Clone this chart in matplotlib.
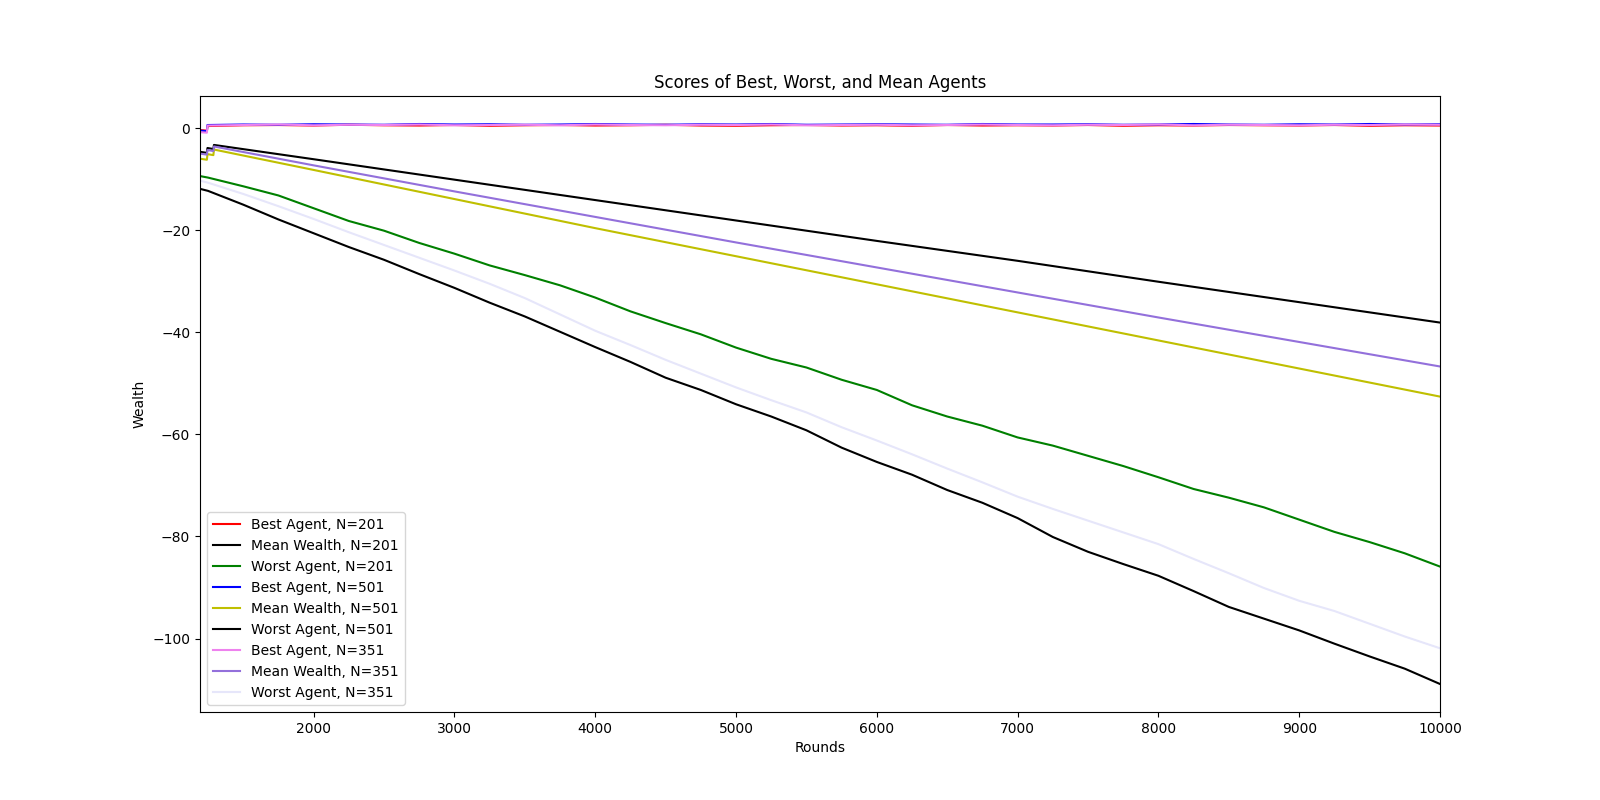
import matplotlib
matplotlib.use("Agg")
import matplotlib.pyplot as plt

# ---- data ----
best_rounds = [1193, 1242, 1246] + list(range(1500, 10001, 250))
best_201 = [-0.4, -0.5, 0.4, 0.55, 0.6, 0.5, 0.65, 0.55, 0.5, 0.6, 0.45, 0.55, 0.6, 0.5,
            0.55, 0.65, 0.5, 0.45, 0.55, 0.6, 0.5, 0.55, 0.45, 0.6, 0.5, 0.55, 0.5, 0.6,
            0.45, 0.55, 0.5, 0.6, 0.55, 0.5, 0.6, 0.45, 0.55, 0.5]
best_501 = [-0.5, -0.6, 0.6, 0.7, 0.65, 0.75, 0.7, 0.65, 0.8, 0.7, 0.75, 0.65, 0.7, 0.8,
            0.7, 0.65, 0.75, 0.7, 0.8, 0.65, 0.7, 0.75, 0.7, 0.65, 0.8, 0.7, 0.7, 0.75,
            0.65, 0.7, 0.8, 0.7, 0.65, 0.75, 0.7, 0.8, 0.7, 0.75]
best_351 = [-0.8, -0.9, 0.5, 0.6, 0.7, 0.55, 0.65, 0.6, 0.7, 0.55, 0.6, 0.65, 0.55, 0.7,
            0.6, 0.55, 0.65, 0.6, 0.7, 0.55, 0.6, 0.65, 0.55, 0.6, 0.7, 0.6, 0.55, 0.65,
            0.6, 0.7, 0.55, 0.65, 0.6, 0.55, 0.65, 0.6, 0.7, 0.65]

mean_rounds = [1193, 1242, 1246, 1288, 1292] + list(range(2000, 10001, 1000))
mean_201 = [-4.65, -4.85, -3.9, -4.1, -3.3, -6.1, -10.1, -14.1, -18.1, -22.1, -26.0, -30.1, -34.1, -38.1]
mean_501 = [-6.0, -6.2, -5.1, -5.3, -4.2, -8.2, -13.9, -19.6, -25.1, -30.6, -36.1, -41.6, -47.1, -52.6]
mean_351 = [-5.0, -5.2, -4.3, -4.5, -3.6, -7.3, -12.4, -17.4, -22.4, -27.3, -32.2, -37.1, -41.9, -46.7]

worst_rounds = [1193, 1250] + list(range(1500, 10001, 250))
worst_201 = [-9.4, -9.7, -11.4, -13.2, -15.7, -18.2, -20.1, -22.5, -24.6, -26.9, -28.8, -30.8,
             -33.2, -35.9, -38.2, -40.4, -43.0, -45.2, -46.9, -49.3, -51.3, -54.3, -56.5, -58.3,
             -60.6, -62.2, -64.2, -66.2, -68.4, -70.7, -72.4, -74.3, -76.7, -79.1, -81.1, -83.3, -85.9]
worst_501 = [-11.9, -12.3, -15.0, -17.9, -20.6, -23.3, -25.8, -28.6, -31.3, -34.2, -36.9, -39.9,
             -42.9, -45.8, -48.9, -51.3, -54.1, -56.5, -59.2, -62.6, -65.4, -67.9, -70.9, -73.4,
             -76.4, -80.1, -83.0, -85.4, -87.7, -90.7, -93.8, -96.1, -98.4, -101.0, -103.5, -105.9, -108.9]
worst_351 = [-10.3, -10.7, -12.9, -15.3, -17.8, -20.4, -22.9, -25.4, -27.9, -30.5, -33.3, -36.5,
             -39.7, -42.5, -45.4, -48.1, -50.8, -53.3, -55.7, -58.6, -61.2, -63.9, -66.7, -69.4,
             -72.2, -74.6, -76.9, -79.2, -81.5, -84.4, -87.2, -90.1, -92.6, -94.6, -97.1, -99.6, -101.9]

# ---- plot ----
fig, ax = plt.subplots(figsize=(16, 8), dpi=100)

ax.plot(best_rounds, best_201, color='r', label='Best Agent, N=201')
ax.plot(mean_rounds, mean_201, color='k', label='Mean Wealth, N=201')
ax.plot(worst_rounds, worst_201, color='g', label='Worst Agent, N=201')
ax.plot(best_rounds, best_501, color='b', label='Best Agent, N=501')
ax.plot(mean_rounds, mean_501, color='y', label='Mean Wealth, N=501')
ax.plot(worst_rounds, worst_501, color='k', label='Worst Agent, N=501')
ax.plot(best_rounds, best_351, color='violet', label='Best Agent, N=351')
ax.plot(mean_rounds, mean_351, color='mediumpurple', label='Mean Wealth, N=351')
ax.plot(worst_rounds, worst_351, color='lavender', label='Worst Agent, N=351')

ax.set_xlim(1193, 10000)
ax.set_title('Scores of Best, Worst, and Mean Agents')
ax.set_xlabel('Rounds')
ax.set_ylabel('Wealth')
ax.legend(loc='lower left')

fig.savefig('out.png', dpi=100)
